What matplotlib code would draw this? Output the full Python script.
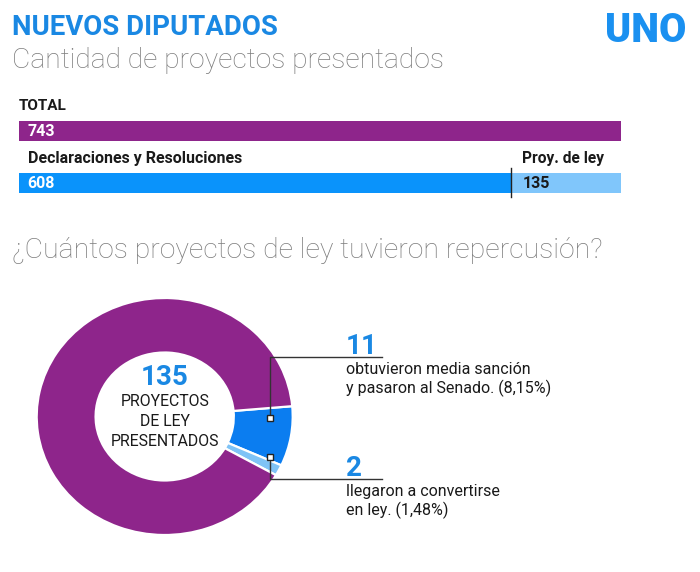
import matplotlib
matplotlib.use("Agg")
import matplotlib.pyplot as plt
from matplotlib import font_manager

# ---------------- data ----------------
total_label = "TOTAL"
total_value = 743
split_labels = ["Declaraciones y Resoluciones", "Proy. de ley"]
split_values = [608, 135]

donut_values = [11, 2, 122]          # media sanción, ley, resto
donut_total = 135
donut_center_lines = ["PROYECTOS", "DE LEY", "PRESENTADOS"]
ann_numbers = ["11", "2"]
ann_texts = [["obtuvieron media sanción", "y pasaron al Senado. (8,15%)"],
             ["llegaron a convertirse", "en ley. (1,48%)"]]

title = "NUEVOS DIPUTADOS"
subtitle = "Cantidad de proyectos presentados"
heading2 = "¿Cuántos proyectos de ley tuvieron repercusión?"
logo = "UNO"

# ---------------- style ----------------
PURPLE = "#8e258b"
BLUE = "#0a93fb"
LIGHT = "#80c6fb"
DBLUE = "#0b7df0"
DLIGHT = "#7fc3f6"
TITLE_BLUE = "#1a88e3"
GRAY = "#7c7c7c"
DARK = "#1a1a1a"

avail = {f.name for f in font_manager.fontManager.ttflist}
FONT = "Roboto" if "Roboto" in avail else "DejaVu Sans"
COND = "Liberation Sans Narrow" if "Liberation Sans Narrow" in avail else FONT
plt.rcParams["font.family"] = [FONT, "DejaVu Sans"]

W, H = 700, 572
fig = plt.figure(figsize=(W / 100, H / 100), dpi=100)
fig.patch.set_facecolor("white")


def px_rect(x0, y0, x1, y1):
    return [x0 / W, 1 - y1 / H, (x1 - x0) / W, (y1 - y0) / H]


# ---------------- bars ----------------
bx0, bx1 = 18.75, 620.5
axb = fig.add_axes(px_rect(bx0, 120.7, bx1, 192.7))
axb.set_xlim(0, total_value)
axb.set_ylim(192.7, 120.7)
axb.axis("off")
axb.barh([130.7], [total_value], height=20, color=PURPLE, align="center")
axb.barh([182.7], [split_values[0]], height=20, color=BLUE, align="center")
axb.barh([182.7], [split_values[1]], left=[split_values[0]], height=20,
         color=LIGHT, align="center")
axb.plot([split_values[0], split_values[0]], [168, 197], color="#222222",
         lw=1.0, clip_on=False)

# ---------------- donut ----------------
axd = fig.add_axes(px_rect(36.7, 298, 292.7, 535))
axd.pie(donut_values, colors=[DBLUE, DLIGHT, PURPLE], startangle=5,
        counterclock=False, radius=1.0,
        wedgeprops=dict(width=0.46, edgecolor="white", linewidth=1.6))
axd.set_aspect("auto")
axd.set_xlim(-1, 1)
axd.set_ylim(-1, 1)
axd.axis("off")

# ---------------- overlay (pixel coords) ----------------
ov = fig.add_axes([0, 0, 1, 1])
ov.set_xlim(0, W)
ov.set_ylim(H, 0)
ov.axis("off")
ov.patch.set_alpha(0)
ov.set_zorder(10)


def T(x, y, s, size, color=DARK, weight="normal", ha="left", family=None, va="baseline"):
    kw = {}
    if family is not None:
        kw["family"] = family
    ov.text(x, y, s, fontsize=size, color=color, fontweight=weight, ha=ha,
            va=va, **kw)


T(12.5, 35, title, 19.9, TITLE_BLUE, "bold")
T(12, 68.5, subtitle, 20.3, GRAY, "light")
T(605, 42.5, logo, 28.5, "#1a90f0", "black")

T(19, 110.5, total_label, 11, DARK, "bold", family=COND)
T(27.5, 136.5, str(total_value), 11.5, "white", "bold", family=COND)
T(27.5, 163, split_labels[0], 11.5, DARK, "bold", family=COND)
T(522, 163, split_labels[1], 11.2, DARK, "bold", family=COND)
T(27.5, 188.5, str(split_values[0]), 11.5, "white", "bold", family=COND)
T(523, 188.5, str(split_values[1]), 11.5, DARK, "bold", family=COND)

T(12, 258.5, heading2, 20.4, GRAY, "light")

# centre of donut
T(164.7, 385, str(donut_total), 20, TITLE_BLUE, "bold", ha="center")
for i, line in enumerate(donut_center_lines):
    T(164.7, 406 + i * 20, line, 11.4, DARK, ha="center")

# annotations
lc = "#333333"
ov.plot([270, 270, 382], [418, 356.7, 356.7], color=lc, lw=1.0)
ov.plot([270, 270, 382], [456.7, 479.3, 479.3], color=lc, lw=1.0)
ov.plot([270, 270], [418, 456.7], ls="none", marker="s", ms=5,
        mfc="white", mec="#222222", mew=1.0)

T(346, 353.5, ann_numbers[0], 20, TITLE_BLUE, "bold")
T(346.5, 373.5, ann_texts[0][0], 11.5, DARK)
T(346.5, 393, ann_texts[0][1], 11.5, DARK)
T(346, 475.5, ann_numbers[1], 20, TITLE_BLUE, "bold")
T(346.5, 496, ann_texts[1][0], 11.5, DARK)
T(346.5, 515.5, ann_texts[1][1], 11.5, DARK)

fig.savefig("out.png", dpi=100, facecolor="white")
